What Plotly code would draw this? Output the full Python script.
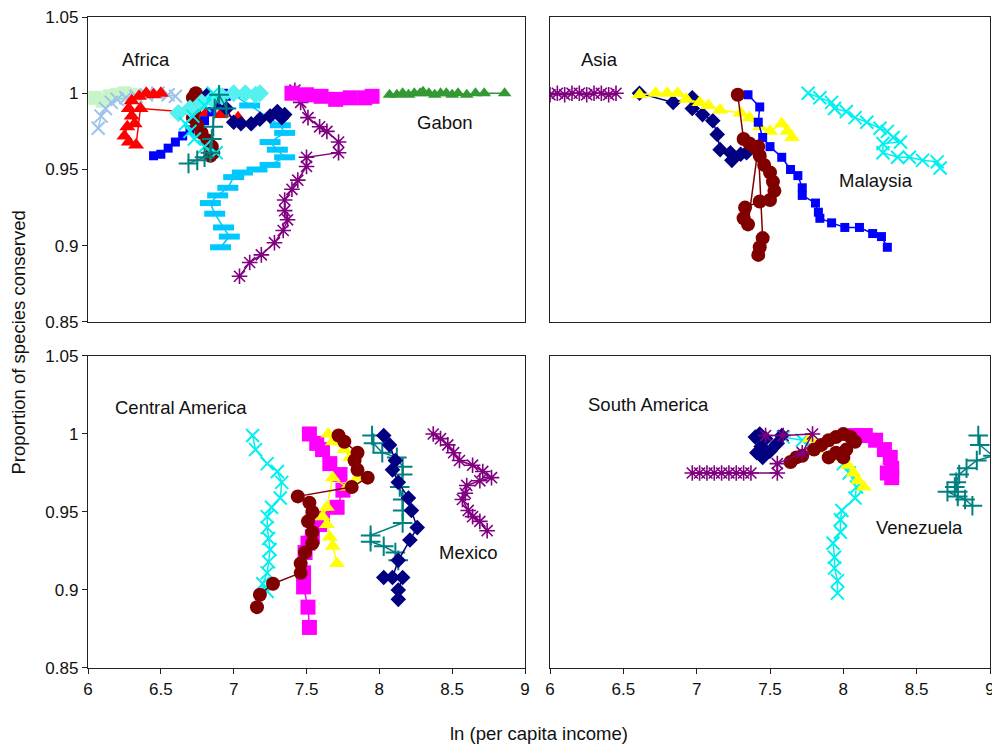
import plotly.graph_objects as go

# ---------------- Africa (top-left) ----------------
af_lgreen_x = [6.05, 6.1, 6.15, 6.2, 6.25, 6.3]
af_lgreen_y = [0.997, 0.995, 0.998, 0.999, 1.0, 0.999]
af_lblue_x = [6.07, 6.09, 6.12, 6.16, 6.2, 6.26, 6.33, 6.4, 6.48, 6.55, 6.6]
af_lblue_y = [0.977, 0.985, 0.99, 0.994, 0.996, 0.997, 0.998, 0.999, 1.0, 0.999, 0.998]
af_red_x = [6.5, 6.45, 6.4, 6.35, 6.3, 6.28, 6.3, 6.32, 6.27, 6.25, 6.28, 6.33, 6.36, 6.81, 6.91, 7.03]
af_red_y = [1.0, 0.999, 1.0, 0.998, 0.995, 0.99, 0.985, 0.98, 0.978, 0.972, 0.968, 0.966, 0.99, 0.987, 0.986, 0.984]
af_maroon_x = [6.74, 6.72, 6.75, 6.73, 6.72, 6.75, 6.78, 6.82, 6.85, 6.86, 6.84]
af_maroon_y = [1.0, 0.997, 0.993, 0.989, 0.984, 0.979, 0.974, 0.969, 0.965, 0.961, 0.959]
af_navy_x = [6.82, 6.88, 6.95, 7.0, 7.05, 7.12, 7.18, 7.25, 7.3, 7.35, 7.33]
af_navy_y = [0.999, 0.995, 0.99, 0.981, 0.98, 0.98, 0.983, 0.985, 0.988, 0.986, 0.984]
af_blue_x = [6.45, 6.5, 6.55, 6.6, 6.65, 6.7, 6.75, 6.8, 6.85, 6.92, 6.95, 6.93]
af_blue_y = [0.959, 0.96, 0.964, 0.968, 0.972, 0.976, 0.979, 0.982, 0.988, 0.993, 0.998, 1.0]
af_cyand_x = [6.62, 6.7, 6.78, 6.85, 6.92, 7.0, 7.08, 7.15, 7.18]
af_cyand_y = [0.987, 0.99, 0.994, 0.996, 0.998, 1.0, 1.0, 0.999, 1.0]
af_cyanx_x = [6.86, 6.8, 6.72, 6.67, 6.7, 6.73, 6.8, 6.88]
af_cyanx_y = [1.0, 0.992, 0.985, 0.98, 0.975, 0.97, 0.965, 0.961]
af_teal_x = [6.69, 6.75, 6.8, 6.84, 6.85, 6.86, 6.87, 6.9, 6.95]
af_teal_y = [0.954, 0.956, 0.958, 0.961, 0.97, 0.978, 0.99, 0.999, 0.99]
af_sky_x = [7.0, 7.11, 7.32, 7.35, 7.25, 7.30, 7.35, 7.25, 7.16, 7.06, 7.0, 6.96, 6.89, 6.84, 6.87, 6.93, 6.97, 6.91]
af_sky_y = [0.999, 0.992, 0.979, 0.974, 0.968, 0.963, 0.958, 0.953, 0.950, 0.948, 0.945, 0.938, 0.933, 0.928, 0.921, 0.912, 0.906, 0.899]
af_purple_x = [7.42, 7.46, 7.51, 7.59, 7.64, 7.72, 7.72, 7.50, 7.50, 7.44, 7.40, 7.35, 7.35, 7.37, 7.34, 7.28, 7.19, 7.11, 7.04]
af_purple_y = [1.002, 0.994, 0.984, 0.978, 0.975, 0.968, 0.961, 0.958, 0.952, 0.943, 0.937, 0.930, 0.923, 0.917, 0.910, 0.902, 0.894, 0.889, 0.880]
af_magenta_x = [7.4, 7.5, 7.6, 7.7, 7.8, 7.9, 7.95]
af_magenta_y = [1.0, 0.999, 0.998, 0.996, 0.997, 0.997, 0.998]
af_green_x = [8.07, 8.12, 8.16, 8.2, 8.24, 8.28, 8.3, 8.34, 8.38, 8.42, 8.46, 8.5, 8.54, 8.6, 8.66, 8.72, 8.86]
af_green_y = [0.999, 0.999, 1.0, 0.999, 1.0, 1.0, 1.001, 1.0, 0.999, 1.0, 1.0, 0.999, 1.0, 0.999, 1.0, 1.0, 1.0]

# ---------------- Asia (top-right) ----------------
as_purple_x = [6.0, 6.05, 6.1, 6.15, 6.2, 6.25, 6.3, 6.35, 6.4, 6.45]
as_purple_y = [0.999, 1.0, 0.999, 1.0, 1.0, 0.999, 1.0, 1.0, 0.999, 1.0]
as_navy_x = [6.61, 6.84, 6.97, 6.97, 7.04, 7.11, 7.14, 7.16, 7.23, 7.24, 7.30, 7.34]
as_navy_y = [1.0, 0.994, 0.997, 0.990, 0.986, 0.982, 0.973, 0.963, 0.961, 0.956, 0.960, 0.961]
as_yellow_x = [6.61, 6.72, 6.80, 6.87, 6.93, 7.02, 7.08, 7.16, 7.30, 7.36, 7.43, 7.50, 7.58, 7.62, 7.65]
as_yellow_y = [0.999, 1.0, 1.0, 1.0, 0.996, 0.994, 0.992, 0.989, 0.987, 0.984, 0.978, 0.975, 0.980, 0.975, 0.971]
as_blue_x = [7.35, 7.43, 7.42, 7.45, 7.50, 7.58, 7.64, 7.69, 7.72, 7.72, 7.81, 7.83, 7.84, 7.92, 8.01, 8.11, 8.20, 8.26, 8.30]
as_blue_y = [0.999, 0.991, 0.981, 0.971, 0.965, 0.958, 0.950, 0.946, 0.938, 0.933, 0.928, 0.922, 0.918, 0.915, 0.912, 0.912, 0.908, 0.906, 0.899]
as_maroon_x = [7.28, 7.32, 7.36, 7.40, 7.43, 7.46, 7.50, 7.52, 7.53, 7.50, 7.43, 7.33, 7.32, 7.35, 7.42, 7.45, 7.43, 7.42]
as_maroon_y = [0.999, 0.970, 0.967, 0.964, 0.959, 0.953, 0.948, 0.942, 0.936, 0.930, 0.929, 0.925, 0.918, 0.914, 0.965, 0.905, 0.899, 0.894]
as_cyan_x = [7.76, 7.84, 7.92, 7.94, 8.02, 8.08, 8.16, 8.25, 8.30, 8.34, 8.39, 8.27, 8.27, 8.37, 8.45, 8.54, 8.64, 8.66]
as_cyan_y = [1.0, 0.997, 0.994, 0.990, 0.988, 0.984, 0.981, 0.977, 0.975, 0.971, 0.968, 0.967, 0.961, 0.958, 0.958, 0.956, 0.955, 0.951]

# ---------------- Central America (bottom-left) ----------------
ca_cyan_x = [7.13, 7.15, 7.23, 7.30, 7.33, 7.32, 7.26, 7.23, 7.23, 7.24, 7.25, 7.24, 7.23, 7.20, 7.23]
ca_cyan_y = [0.999, 0.990, 0.981, 0.976, 0.969, 0.959, 0.953, 0.947, 0.940, 0.933, 0.926, 0.918, 0.911, 0.904, 0.899]
ca_magenta_x = [7.52, 7.57, 7.61, 7.66, 7.73, 7.75, 7.71, 7.61, 7.59, 7.54, 7.51, 7.49, 7.48, 7.48, 7.51, 7.52]
ca_magenta_y = [1.0, 0.994, 0.990, 0.981, 0.974, 0.964, 0.953, 0.946, 0.942, 0.934, 0.930, 0.924, 0.911, 0.902, 0.889, 0.876]
ca_yellow_x = [7.65, 7.68, 7.76, 7.80, 7.85, 7.78, 7.68, 7.64, 7.61, 7.64, 7.66, 7.68, 7.71]
ca_yellow_y = [1.0, 0.995, 0.990, 0.985, 0.972, 0.966, 0.972, 0.953, 0.947, 0.942, 0.934, 0.928, 0.917]
ca_maroon_x = [7.72, 7.76, 7.85, 7.83, 7.85, 7.92, 7.81, 7.44, 7.52, 7.54, 7.51, 7.54, 7.54, 7.49, 7.46, 7.46, 7.27, 7.18, 7.16]
ca_maroon_y = [0.999, 0.995, 0.988, 0.983, 0.977, 0.972, 0.966, 0.960, 0.956, 0.950, 0.944, 0.937, 0.930, 0.924, 0.917, 0.911, 0.904, 0.897, 0.889]
ca_teal_x = [7.95, 7.96, 8.02, 8.12, 8.16, 8.16, 8.14, 8.16, 8.16, 8.16, 7.94, 7.94, 8.03, 8.11, 8.13]
ca_teal_y = [0.999, 0.994, 0.988, 0.985, 0.979, 0.974, 0.966, 0.958, 0.951, 0.943, 0.935, 0.931, 0.928, 0.924, 0.919]
ca_navy_x = [8.03, 8.07, 8.11, 8.09, 8.13, 8.20, 8.22, 8.26, 8.21, 8.13, 8.09, 8.03, 8.16, 8.13, 8.13]
ca_navy_y = [0.999, 0.993, 0.983, 0.977, 0.969, 0.959, 0.951, 0.940, 0.932, 0.919, 0.908, 0.908, 0.908, 0.900, 0.894]
ca_purple_x = [8.37, 8.42, 8.47, 8.51, 8.55, 8.64, 8.71, 8.77, 8.69, 8.60, 8.59, 8.57, 8.61, 8.64, 8.69, 8.74]
ca_purple_y = [1.0, 0.997, 0.993, 0.988, 0.983, 0.980, 0.976, 0.972, 0.970, 0.967, 0.962, 0.958, 0.951, 0.947, 0.944, 0.938]

# ---------------- South America (bottom-right) ----------------
sa_navy_x = [7.40, 7.43, 7.47, 7.44, 7.41, 7.45, 7.50, 7.55, 7.58]
sa_navy_y = [0.998, 1.0, 0.997, 0.992, 0.988, 0.985, 0.989, 0.994, 0.999]
sa_purple_x = [6.97, 7.02, 7.07, 7.12, 7.17, 7.22, 7.27, 7.32, 7.37, 7.55, 7.55, 7.72, 7.79, 7.59, 7.47]
sa_purple_y = [0.975, 0.975, 0.975, 0.975, 0.975, 0.975, 0.975, 0.975, 0.975, 0.975, 0.981, 0.988, 1.0, 0.999, 0.999]
sa_cyan_x = [7.59, 7.72, 8.0, 8.04, 8.09, 8.08, 7.99, 7.98, 7.98, 7.93, 7.94, 7.94, 7.96, 7.96]
sa_cyan_y = [0.998, 0.996, 0.981, 0.975, 0.966, 0.959, 0.951, 0.945, 0.937, 0.930, 0.921, 0.914, 0.906, 0.898]
sa_yellow_x = [7.77, 7.8, 7.98, 8.03, 8.07, 8.1, 8.14]
sa_yellow_y = [0.997, 0.99, 0.985, 0.98, 0.975, 0.97, 0.966]
sa_maroon_x = [7.64, 7.68, 7.72, 7.8, 7.85, 7.9, 7.95, 8.0, 8.05, 8.02, 7.95, 7.9, 8.0, 8.08]
sa_maroon_y = [0.982, 0.985, 0.986, 0.99, 0.993, 0.996, 0.998, 1.0, 0.998, 0.99, 0.988, 0.985, 0.985, 0.995]
sa_magenta_x = [8.08, 8.15, 8.22, 8.28, 8.32, 8.33, 8.33, 8.3]
sa_magenta_y = [0.999, 0.999, 0.996, 0.99, 0.985, 0.978, 0.972, 0.975]
sa_teal_x = [8.92, 8.93, 9.02, 8.91, 8.84, 8.79, 8.77, 8.76, 8.78, 8.71, 8.78, 8.83, 8.88]
sa_teal_y = [0.999, 0.993, 0.986, 0.983, 0.978, 0.974, 0.969, 0.966, 0.963, 0.963, 0.96, 0.958, 0.954]

y_ticks = [0.85, 0.9, 0.95, 1.0, 1.05]
y_tick_text = ["0.85", "0.9", "0.95", "1", "1.05"]
x_ticks = [6, 6.5, 7, 7.5, 8, 8.5, 9]
x_tick_text = ["6", "6.5", "7", "7.5", "8", "8.5", "9"]

STY = {
    "lgreen": dict(symbol="square", size=14, color="#c8f5c8", line=dict(width=0)),
    "lblue": dict(symbol="x-thin-open", size=13, color="#9cc3ec", line=dict(width=2, color="#9cc3ec")),
    "red": dict(symbol="triangle-up", size=14, color="#ff0000", line=dict(width=0)),
    "maroon": dict(symbol="circle", size=14, color="#800000", line=dict(width=0)),
    "navy": dict(symbol="diamond", size=12, color="#000080", line=dict(width=0)),
    "blue": dict(symbol="square", size=9, color="#0000ff", line=dict(width=0)),
    "cyand": dict(symbol="diamond", size=14, color="#55f0f0", line=dict(width=0)),
    "cyan": dict(symbol="x-thin-open", size=13, color="#00f0f0", line=dict(width=2, color="#00f0f0")),
    "teal": dict(symbol="cross-thin-open", size=14, color="#008080", line=dict(width=2, color="#008080")),
    "sky": dict(symbol="line-ew-open", size=15, color="#00c8ff", line=dict(width=6, color="#00c8ff")),
    "purple": dict(symbol="asterisk-open", size=13, color="#800080", line=dict(width=1.6, color="#800080")),
    "magenta": dict(symbol="square", size=15, color="#ff00ff", line=dict(width=0)),
    "green": dict(symbol="triangle-up", size=12, color="#339933", line=dict(width=0)),
    "yellow": dict(symbol="triangle-up", size=14, color="#ffff00", line=dict(width=0)),
}

fig = go.Figure()

def add(xs, ys, key, xa, ya):
    st = STY[key]
    fig.add_trace(go.Scatter(
        x=xs, y=ys, mode="lines+markers", xaxis=xa, yaxis=ya,
        line=dict(color=st["color"], width=1.5),
        marker=dict(symbol=st["symbol"], size=st["size"], color=st["color"], line=st["line"]),
        showlegend=False, hoverinfo="x+y", cliponaxis=True,
    ))

# Africa
add(af_lgreen_x, af_lgreen_y, "lgreen", "x", "y")
add(af_lblue_x, af_lblue_y, "lblue", "x", "y")
add(af_red_x, af_red_y, "red", "x", "y")
add(af_sky_x, af_sky_y, "sky", "x", "y")
add(af_purple_x, af_purple_y, "purple", "x", "y")
add(af_magenta_x, af_magenta_y, "magenta", "x", "y")
add(af_green_x, af_green_y, "green", "x", "y")
add(af_blue_x, af_blue_y, "blue", "x", "y")
add(af_maroon_x, af_maroon_y, "maroon", "x", "y")
add(af_navy_x, af_navy_y, "navy", "x", "y")
add(af_cyand_x, af_cyand_y, "cyand", "x", "y")
add(af_cyanx_x, af_cyanx_y, "cyan", "x", "y")
add(af_teal_x, af_teal_y, "teal", "x", "y")

# Asia
add(as_purple_x, as_purple_y, "purple", "x2", "y2")
add(as_navy_x, as_navy_y, "navy", "x2", "y2")
add(as_yellow_x, as_yellow_y, "yellow", "x2", "y2")
add(as_blue_x, as_blue_y, "blue", "x2", "y2")
add(as_maroon_x, as_maroon_y, "maroon", "x2", "y2")
add(as_cyan_x, as_cyan_y, "cyan", "x2", "y2")

# Central America
add(ca_cyan_x, ca_cyan_y, "cyan", "x3", "y3")
add(ca_magenta_x, ca_magenta_y, "magenta", "x3", "y3")
add(ca_yellow_x, ca_yellow_y, "yellow", "x3", "y3")
add(ca_maroon_x, ca_maroon_y, "maroon", "x3", "y3")
add(ca_teal_x, ca_teal_y, "teal", "x3", "y3")
add(ca_navy_x, ca_navy_y, "navy", "x3", "y3")
add(ca_purple_x, ca_purple_y, "purple", "x3", "y3")

# South America
add(sa_cyan_x, sa_cyan_y, "cyan", "x4", "y4")
add(sa_yellow_x, sa_yellow_y, "yellow", "x4", "y4")
add(sa_magenta_x, sa_magenta_y, "magenta", "x4", "y4")
add(sa_maroon_x, sa_maroon_y, "maroon", "x4", "y4")
add(sa_navy_x, sa_navy_y, "navy", "x4", "y4")
add(sa_purple_x, sa_purple_y, "purple", "x4", "y4")
add(sa_teal_x, sa_teal_y, "teal", "x4", "y4")

FONT = "Liberation Sans, Arial, sans-serif"
XL = [0, 0.4845]
XR = [0.5122, 1]
YT = [0.5315, 1]
YB = [0, 0.4793]
TICKFONT = dict(size=17, color="#111", family=FONT)

def xax(domain, anchor, labels):
    d = dict(domain=domain, anchor=anchor, range=[6, 9], showgrid=False, zeroline=False,
             showline=True, linecolor="#222", linewidth=1.3, mirror=True, automargin=False,
             ticklabeloverflow="allow",
             tickvals=x_ticks, ticktext=x_tick_text, tickfont=TICKFONT)
    if labels:
        d.update(ticks="outside", ticklen=5, tickcolor="#222", showticklabels=True)
    else:
        d.update(ticks="", showticklabels=False)
    return d

def yax(domain, anchor, labels):
    d = dict(domain=domain, anchor=anchor, range=[0.85, 1.05], showgrid=False, zeroline=False,
             showline=True, linecolor="#222", linewidth=1.3, mirror=True, automargin=False,
             tickvals=y_ticks, ticktext=y_tick_text, tickfont=TICKFONT)
    if labels:
        d.update(ticks="outside", ticklen=5, tickcolor="#222", showticklabels=True)
    else:
        d.update(ticks="", showticklabels=False)
    return d

fig.update_layout(
    width=992, height=744,
    margin=dict(l=88, r=2, t=17, b=76, autoexpand=False),
    paper_bgcolor="white", plot_bgcolor="white",
    font=dict(family=FONT, color="#111"),
    xaxis=xax(XL, "y", False), yaxis=yax(YT, "x", True),
    xaxis2=xax(XR, "y2", False), yaxis2=yax(YT, "x2", False),
    xaxis3=xax(XL, "y3", True), yaxis3=yax(YB, "x3", True),
    xaxis4=xax(XR, "y4", True), yaxis4=yax(YB, "x4", False),
)

labels = [
    ("Africa", 6.40, 1.022, "x", "y"),
    ("Gabon", 8.45, 0.981, "x", "y"),
    ("Asia", 6.34, 1.022, "x2", "y2"),
    ("Malaysia", 8.22, 0.943, "x2", "y2"),
    ("Central America", 6.64, 1.017, "x3", "y3"),
    ("Mexico", 8.61, 0.924, "x3", "y3"),
    ("South America", 6.67, 1.019, "x4", "y4"),
    ("Venezuela", 8.52, 0.940, "x4", "y4"),
]
for t, x, y, xa, ya in labels:
    fig.add_annotation(text=t, x=x, y=y, xref=xa, yref=ya, showarrow=False,
                       font=dict(size=18.5, family=FONT, color="#111"))

fig.add_annotation(text="Proportion of species conserved", x=-0.0776, y=0.5, xref="paper", yref="paper",
                   textangle=-90, showarrow=False, xanchor="center", yanchor="middle",
                   font=dict(size=18.5, family=FONT, color="#111"))
fig.add_annotation(text="ln (per capita income)", x=0.5, y=-0.1, xref="paper", yref="paper",
                   showarrow=False, xanchor="center", yanchor="middle",
                   font=dict(size=18.5, family=FONT, color="#111"))

# remove the default page margin so the 992x744 figure fills the window exactly
fig.write_html("out.html", config={"displayModeBar": False},
               post_script="document.body.style.margin='0';document.body.style.overflow='hidden';")
